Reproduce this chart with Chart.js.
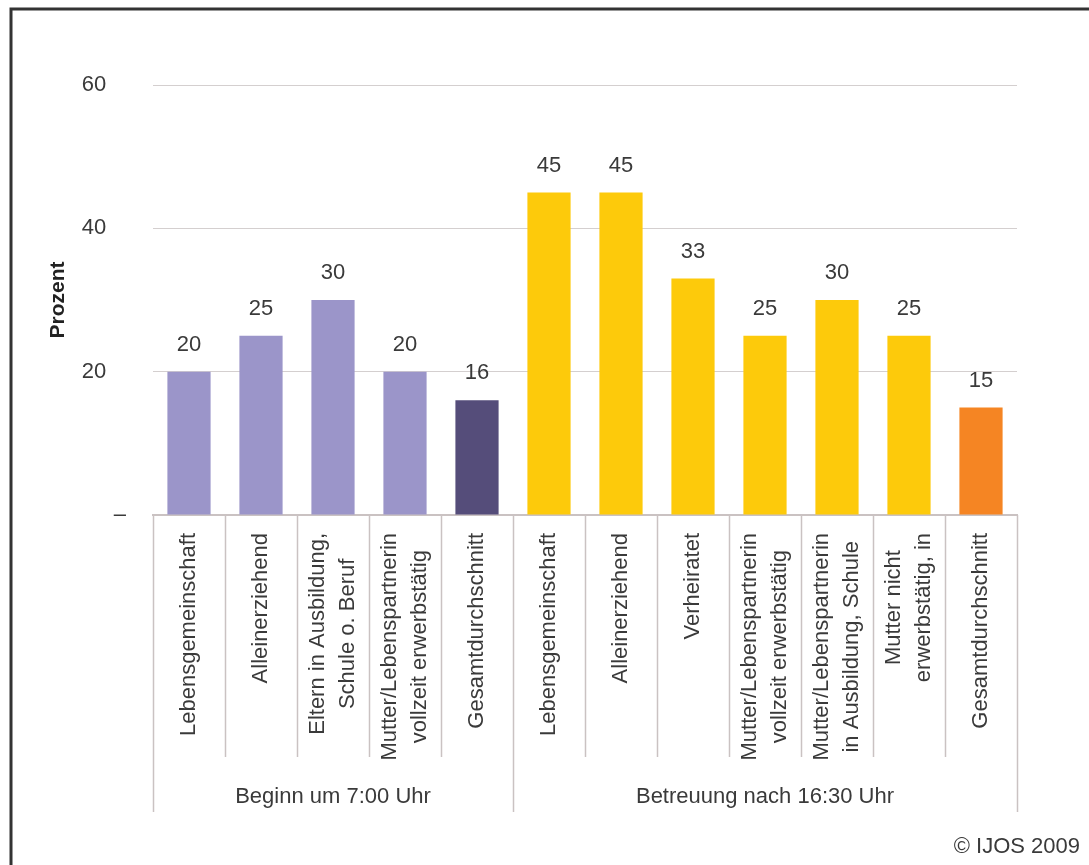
<!DOCTYPE html>
<html>
<head>
<meta charset="utf-8">
<title>Betreuungszeiten</title>
<script src="https://cdn.jsdelivr.net/npm/chart.js@4.4.1/dist/chart.umd.min.js"></script>
<style>
    body { margin: 0; background: #fff; }
    canvas { display: block; }
</style>
</head>
<body>
<canvas id="chart" width="1089" height="865"></canvas>
<script>
'use strict';

// categories, two-level axis
var categories = [
    ['Lebensgemeinschaft'],
    ['Alleinerziehend'],
    ['Eltern in Ausbildung,', 'Schule o. Beruf'],
    ['Mutter/Lebenspartnerin', 'vollzeit erwerbstätig'],
    ['Gesamtdurchschnitt'],
    ['Lebensgemeinschaft'],
    ['Alleinerziehend'],
    ['Verheiratet'],
    ['Mutter/Lebenspartnerin', 'vollzeit erwerbstätig'],
    ['Mutter/Lebenspartnerin', 'in Ausbildung, Schule'],
    ['Mutter nicht', 'erwerbstätig, in'],
    ['Gesamtdurchschnitt']
];
var groups = ['Beginn um 7:00 Uhr', 'Betreuung nach 16:30 Uhr'];
var groupSizes = [5, 7];

var values = [20, 25, 30, 20, 16, 45, 45, 33, 25, 30, 25, 15];
var barColors = [
    '#9b95c9', '#9b95c9', '#9b95c9', '#9b95c9', '#554d7a',
    '#fdca0b', '#fdca0b', '#fdca0b', '#fdca0b', '#fdca0b', '#fdca0b', '#f58523'
];
var yTicks = [0, 20, 40, 60];

var FONT = '"Liberation Sans", Arial, sans-serif';
var SIZE = 22;
var TEXT = '#3a3a3a';
var LINE = '#cac2c2';

var framePlugin = {
    id: 'frame',
    beforeDraw: function(chart) {
        var ctx = chart.ctx;
        ctx.save();
        ctx.strokeStyle = '#333';
        ctx.lineWidth = 3;
        ctx.beginPath();
        ctx.moveTo(11, chart.height);
        ctx.lineTo(11, 9);
        ctx.lineTo(chart.width, 9);
        ctx.stroke();
        ctx.restore();
    }
};

var valueLabels = {
    id: 'valueLabels',
    afterDatasetsDraw: function(chart) {
        var ctx = chart.ctx;
        var meta = chart.getDatasetMeta(0);
        ctx.save();
        ctx.font = SIZE + 'px ' + FONT;
        ctx.fillStyle = TEXT;
        ctx.textAlign = 'center';
        ctx.textBaseline = 'middle';
        meta.data.forEach(function(bar, i) {
            ctx.fillText(String(values[i]), bar.x, bar.y - 27);
        });
        ctx.restore();
    }
};

var categoryAxis = {
    id: 'categoryAxis',
    afterDraw: function(chart) {
        var ctx = chart.ctx;
        var x = chart.scales.x;
        var area = chart.chartArea;
        var top = area.bottom;
        var lineGap = 30;

        function boundary(i) {
            if (i === 0) return area.left;
            if (i === categories.length) return area.right;
            return (x.getPixelForValue(i - 1) + x.getPixelForValue(i)) / 2;
        }

        ctx.save();
        ctx.strokeStyle = LINE;
        ctx.lineWidth = 1.5;

        // separators
        var groupEdges = [0];
        groupSizes.reduce(function(acc, n) { groupEdges.push(acc + n); return acc + n; }, 0);
        for (var i = 0; i <= categories.length; i++) {
            var bx = Math.round(boundary(i)) + 0.5;
            var bottom = groupEdges.indexOf(i) >= 0 ? top + 297 : top + 242;
            ctx.beginPath();
            ctx.moveTo(bx, top);
            ctx.lineTo(bx, bottom);
            ctx.stroke();
        }

        // rotated category labels
        ctx.font = SIZE + 'px ' + FONT;
        ctx.fillStyle = TEXT;
        ctx.textAlign = 'center';
        ctx.textBaseline = 'middle';
        categories.forEach(function(lines, i) {
            var cx = x.getPixelForValue(i);
            var maxW = Math.max.apply(null, lines.map(function(l) { return ctx.measureText(l).width; }));
            ctx.save();
            ctx.translate(cx, top);
            ctx.rotate(-Math.PI / 2);
            lines.forEach(function(l, k) {
                var v = (k - (lines.length - 1) / 2) * lineGap;
                ctx.fillText(l, -(18 + maxW / 2), v);
            });
            ctx.restore();
        });

        // group labels
        groups.forEach(function(g, gi) {
            var gx = (boundary(groupEdges[gi]) + boundary(groupEdges[gi + 1])) / 2;
            ctx.fillText(g, gx, top + 282);
        });

        // source note
        ctx.textAlign = 'right';
        ctx.fillText('\u00a9 IJOS 2009', 1080, 847);
        ctx.restore();
    }
};

new Chart(document.getElementById('chart'), {
    type: 'bar',
    data: {
        labels: categories.map(function(c) { return c.join(' '); }),
        datasets: [{
            data: values,
            backgroundColor: barColors,
            borderWidth: 0,
            barPercentage: 0.6,
            categoryPercentage: 1
        }]
    },
    options: {
        responsive: false,
        animation: false,
        devicePixelRatio: 1,
        layout: { padding: { left: 0, top: 85, right: 72, bottom: 350 } },
        plugins: {
            legend: { display: false },
            tooltip: { enabled: false }
        },
        scales: {
            x: {
                ticks: { display: false },
                grid: { display: false },
                border: { display: true, color: LINE, width: 2 },
                afterFit: function(scale) { scale.height = 0; }
            },
            y: {
                min: 0,
                max: 60,
                afterBuildTicks: function(scale) {
                    scale.ticks = yTicks.map(function(v) { return { value: v }; });
                },
                ticks: {
                    padding: 27,
                    color: TEXT,
                    font: { family: FONT, size: SIZE },
                    callback: function(v) { return v === 0 ? '\u2013' : v + '\u2002\u2009\u2009'; }
                },
                grid: {
                    drawTicks: false,
                    color: function(c) { return c.tick.value === 0 ? 'rgba(0,0,0,0)' : '#d4cfcf'; }
                },
                border: { display: false },
                title: {
                    display: true,
                    text: 'Prozent',
                    color: '#222',
                    font: { family: FONT, size: 21, weight: 'bold' },
                    padding: { top: 46, bottom: 0 }
                },
                afterFit: function(scale) { scale.width = 153; }
            }
        }
    },
    plugins: [framePlugin, valueLabels, categoryAxis]
});
</script>
</body>
</html>
